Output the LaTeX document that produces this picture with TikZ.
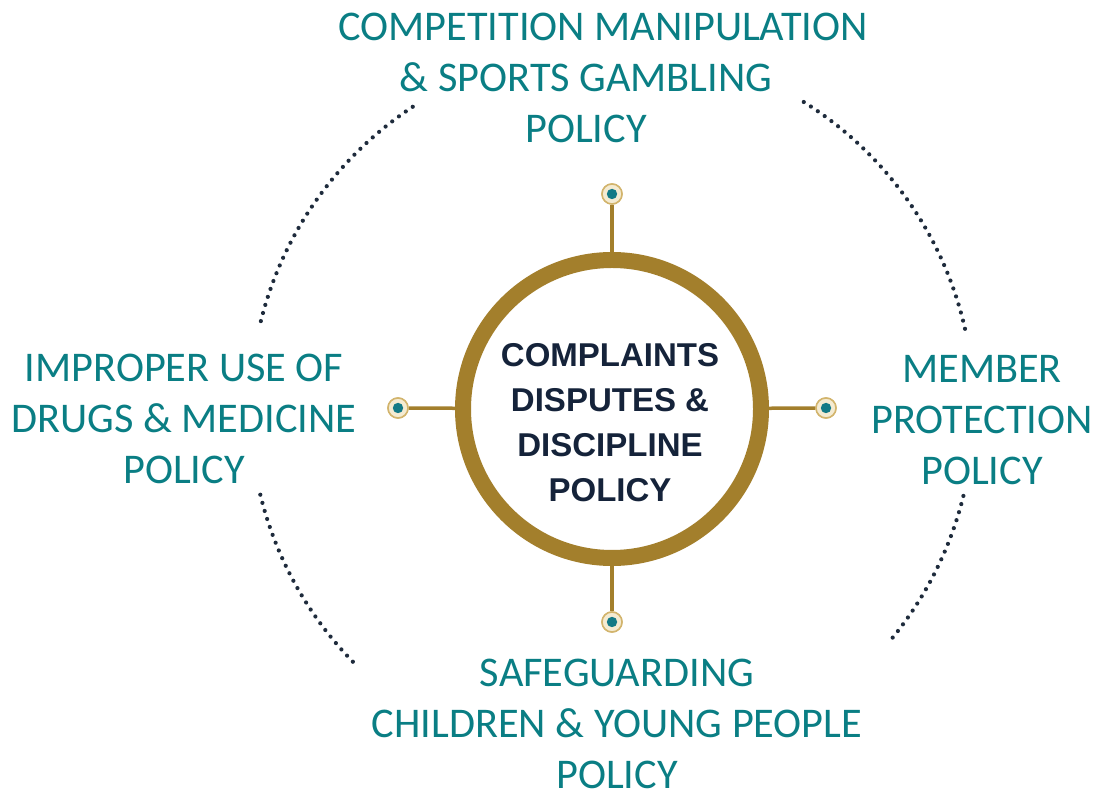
\documentclass[tikz,border=0pt]{standalone}
\usepackage{fontspec}
\setmainfont{Carlito}
\newfontfamily\hubfont{Liberation Sans}
\definecolor{tealtxt}{HTML}{0A7E84}
\definecolor{goldring}{HTML}{A37F2C}
\definecolor{goldlight}{HTML}{D2B46C}
\definecolor{cream}{HTML}{F4EBD2}
\definecolor{dotteal}{HTML}{137A86}
\definecolor{navy}{HTML}{15233A}
\definecolor{dotgrey}{HTML}{1E2B3C}
\tikzset{
  policy/.style={text=tealtxt, align=center, inner sep=0pt, font=\fontsize{42.3}{51}\selectfont},
  hubnode/.style={circle, draw=goldring, line width=16pt, fill=white, minimum size=298pt, inner sep=0pt},
  hubtext/.style={text=navy, align=center, inner sep=0pt, font=\hubfont\bfseries\fontsize{33}{45}\selectfont},
  dotnode/.style={circle, minimum size=20pt, inner sep=0pt, fill=cream, draw=goldlight, line width=1.5pt,
    path picture={\fill[dotteal] (path picture bounding box.center) circle (5.2pt);}},
  spoke/.style={draw=goldring, line width=3.5pt},
  dotarc/.style={draw=dotgrey, line width=4.2pt, line cap=round, dash pattern=on 0pt off 8.4pt}
}
\begin{document}
\begin{tikzpicture}[x=1pt,y=1pt]
\useasboundingbox (0,0) rectangle (1094,792);
\node[hubnode] (hub) at (612,383) {};
\node[hubtext] (hubtxt) at (610,369) {COMPLAINTS\\DISPUTES \&\\DISCIPLINE\\POLICY};
\node[dotnode] (dN) at (612,598) {};
\node[dotnode] (dS) at (612,170) {};
\node[dotnode] (dW) at (398,384) {};
\node[dotnode] (dE) at (826,384) {};
\draw[spoke] (hub) -- (dN);
\draw[spoke] (hub) -- (dS);
\draw[spoke] (hub) -- (dW);
\draw[spoke] (hub) -- (dE);
\node[dotnode] at (dN) {};
\node[dotnode] at (dS) {};
\node[dotnode] at (dW) {};
\node[dotnode] at (dE) {};
\draw[dotarc] (hub.center) ++(123.4:362) arc[start angle=123.4, end angle=167.1, radius=362];
\draw[dotarc] (hub.center) ++(12.8:362) arc[start angle=12.8, end angle=58.4, radius=362];
\draw[dotarc] (hub.center) ++(193.7:362) arc[start angle=193.7, end angle=224.9, radius=362];
\draw[dotarc] (hub.center) ++(-13.9:362) arc[start angle=-13.9, end angle=-40.4, radius=362];
\node[policy] (top) at (603,714) {COMPETITION MANIPULATION\\\& SPORTS GAMBLING\makebox[34pt]{}\\POLICY\makebox[34pt]{}};
\node[policy] (left) at (184,373) {IMPROPER USE OF\\DRUGS \& MEDICINE\\POLICY};
\node[policy] (right) at (982,372) {MEMBER\\PROTECTION\\POLICY};
\node[policy] (bottom) at (617,68) {SAFEGUARDING\\CHILDREN \& YOUNG PEOPLE\\POLICY};
\end{tikzpicture}
\end{document}
